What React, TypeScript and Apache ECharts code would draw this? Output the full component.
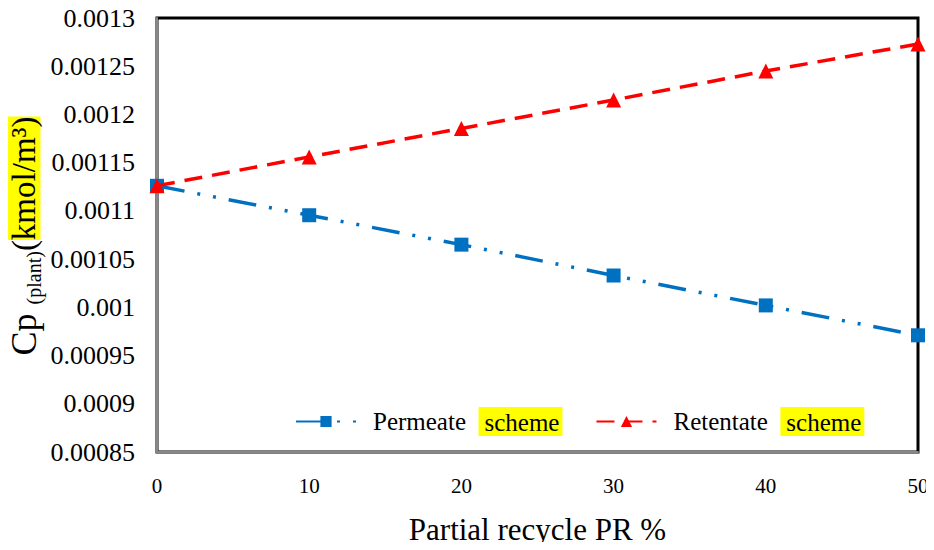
import React, { useEffect, useRef } from "react";
import * as echarts from "echarts";

const xValues = [0, 10, 20, 30, 40, 50];
const permeate = [0.001126, 0.0010955, 0.001065, 0.001033, 0.001002, 0.000971];
const retentate = [0.001126, 0.001156, 0.0011855, 0.001215, 0.001245, 0.001273];
const seriesNames = ["Permeate", "Retentate"];
const yTicks = { min: 0.00085, max: 0.0013, interval: 0.00005 };
const xTicks = { min: 0, max: 50, interval: 10 };

const FONT = "Liberation Serif";

export default function App() {
  const ref = useRef<HTMLDivElement>(null);
  useEffect(() => {
    if (!ref.current) return;
    const chart = echarts.init(ref.current, null, { renderer: "svg" });
    chart.setOption({
      animation: false,
      backgroundColor: "#fff",
      textStyle: { fontFamily: FONT },
      grid: {
        left: 157,
        right: 16,
        top: 18,
        bottom: 92,
        show: true,
        borderColor: "#000",
        borderWidth: 3,
      },
      legend: {
        left: 295,
        top: 407,
        padding: 0,
        itemWidth: 60,
        itemHeight: 14,
        itemGap: 33,
        data: seriesNames,
        formatter: (name: string) => `{n|${name}}  {h|scheme}`,
        textStyle: {
          fontFamily: FONT,
          fontSize: 25,
          color: "#000",
          padding: [0, 0, 0, 12],
          rich: {
            n: { fontFamily: FONT, fontSize: 25, color: "#000" },
            h: {
              fontFamily: FONT,
              fontSize: 25,
              color: "#000",
              backgroundColor: "#FFFF00",
              padding: [3, 3, 1, 6],
            },
          },
        },
      },
      xAxis: {
        type: "value",
        min: xTicks.min,
        max: xTicks.max,
        interval: xTicks.interval,
        axisLine: { show: true, lineStyle: { color: "#888", width: 2 } },
        axisTick: { show: false },
        splitLine: { show: false },
        axisLabel: {
          fontFamily: FONT,
          fontSize: 21,
          color: "#000",
          margin: 23,
        },
        name: "Partial recycle PR %",
        nameLocation: "middle",
        nameGap: 62,
        nameTextStyle: { fontFamily: FONT, fontSize: 31, color: "#000" },
      },
      yAxis: {
        type: "value",
        min: yTicks.min,
        max: yTicks.max,
        interval: yTicks.interval,
        axisLine: { show: true, lineStyle: { color: "#888", width: 2 } },
        axisTick: { show: false },
        splitLine: { show: false },
        axisLabel: {
          fontFamily: FONT,
          fontSize: 26,
          color: "#000",
          margin: 22,
          formatter: (v: number) => String(parseFloat(v.toFixed(6))),
        },
      },
      graphic: [
        {
          type: "text",
          x: 24,
          y: 236,
          rotation: Math.PI / 2,
          style: {
            text: "{c|Cp }{s|(plant)}{k|(}{h|kmol/m³)}",
            textAlign: "center",
            textVerticalAlign: "middle",
            fontFamily: FONT,
            rich: {
              c: { fontFamily: FONT, fontSize: 36, color: "#000", lineHeight: 40, verticalAlign: "middle" },
              s: { fontFamily: FONT, fontSize: 20, color: "#000", lineHeight: 40, verticalAlign: "bottom", padding: [12, 0, 0, 0] },
              k: { fontFamily: FONT, fontSize: 33, color: "#000", lineHeight: 40, verticalAlign: "middle" },
              h: {
                fontFamily: FONT,
                fontSize: 33,
                color: "#000",
                backgroundColor: "#FFFF00",
                lineHeight: 40,
                verticalAlign: "middle",
              },
            },
          },
        },
      ],
      series: [
        {
          name: seriesNames[0],
          type: "line",
          data: xValues.map((x, i) => [x, permeate[i]]),
          symbol: "rect",
          symbolSize: 14,
          itemStyle: { color: "#0070C0" },
          lineStyle: { color: "#0070C0", width: 3.5, type: [28, 13, 3, 13, 3, 13] },
          z: 2,
        },
        {
          name: seriesNames[1],
          type: "line",
          data: xValues.map((x, i) => [x, retentate[i]]),
          symbol: "triangle",
          symbolSize: 15,
          itemStyle: { color: "#FF0000" },
          lineStyle: { color: "#FF0000", width: 3.5, type: [18, 10] },
          z: 3,
        },
      ],
    });
    return () => chart.dispose();
  }, []);
  return <div ref={ref} style={{ width: 934, height: 550, margin: -8 }} />;
}
